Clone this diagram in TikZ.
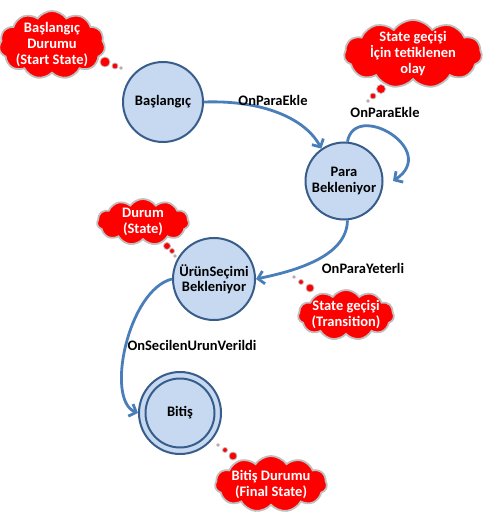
\documentclass[tikz,border=0pt]{standalone}
\usepackage{fontspec}
\setmainfont{Carlito}
\usetikzlibrary{shapes.symbols,arrows.meta}
\definecolor{sfill}{HTML}{C6D9F1}
\definecolor{sdraw}{HTML}{385D8A}
\definecolor{edgec}{HTML}{4A7EBB}
\definecolor{cloudr}{HTML}{FF0000}
\definecolor{cloudb}{HTML}{BFBFBF}
\begin{document}
\begin{tikzpicture}[x=1pt,y=-1pt,
  txt/.style={font=\fontsize{14.5}{15.5}\selectfont\bfseries,align=center,inner sep=0pt},
  state/.style={txt,circle,draw=sdraw,fill=sfill,line width=2pt},
  edge/.style={draw=edgec,line width=2.8pt,-{Straight Barb[length=6pt,width=13pt]}},
  elabel/.style={txt,text=black},
  cloudshape/.style={cloud,cloud puffs=11,cloud puff arc=110,cloud ignores aspect,fill=cloudr,draw=cloudb,line width=1.8pt,inner sep=0pt},
  cloudtext/.style={txt,text=white,font=\fontsize{14.5}{16}\selectfont\bfseries},
  bubble/.style={fill=cloudr,draw=cloudb,line width=0.8pt},
  tiny/.style={fill=cloudb!80!red,draw=cloudb,line width=0.5pt}
]
\useasboundingbox[fill=white] (0,0) rectangle (489,521);

% states
\node[state,minimum size=80pt] (B) at (163,102) {Başlangıç};
\node[state,minimum size=77pt] (P) at (344,181) {Para\\Bekleniyor};
\node[state,minimum size=82pt] (U) at (214,279) {ÜrünSeçimi\\Bekleniyor};
\node[state,minimum size=82pt] (F) at (180,413) {};
\node[state,minimum size=69pt] (Fi) at (F) {Bitiş};
\coordinate (pl) at (393,181);

% transitions
\draw[edge] (B.east) .. controls (262,100) and (305,118) .. (P.125);
\draw[edge] (P.85) .. controls (355,100) and (440,150) .. (pl);
\draw[edge] (P.-85) .. controls (347,255) and (300,270) .. (U.east);
\draw[edge] (U.west) .. controls (128,290) and (105,400) .. (F.west);

% transition labels
\node[elabel] (l1) at (273,100) {OnParaEkle};
\node[elabel] (l2) at (385,112) {OnParaEkle};
\node[elabel] (l3) at (363,268) {OnParaYeterli};
\node[elabel] (l4) at (192,345) {OnSecilenUrunVerildi};

% clouds
\node[cloudshape,minimum width=106pt,minimum height=68pt] (c1) at (52,45) {};
\node[cloudtext] (c1t) at (c1) {Başlangıç\\Durumu\\(Start State)};
\filldraw[bubble] (105,62) circle[radius=5];
\filldraw[bubble] (115,66) circle[radius=3];
\filldraw[tiny] (121,68) circle[radius=1.6];

\node[cloudshape,minimum width=138pt,minimum height=68pt] (c2) at (413,54) {};
\node[cloudtext] (c2t) at (c2) {State geçişi\\İçin tetiklenen\\olay};
\filldraw[bubble] (381,89) circle[radius=4.5];
\filldraw[bubble] (373,96) circle[radius=3];
\filldraw[tiny] (368,101) circle[radius=1.6];

\node[cloudshape,minimum width=92pt,minimum height=46pt] (c3) at (143,222) {};
\node[cloudtext] (c3t) at (c3) {Durum\\(State)};
\filldraw[bubble] (167,246) circle[radius=3.5];
\filldraw[bubble] (172,251) circle[radius=2.5];
\filldraw[tiny] (175,256) circle[radius=1.6];

\node[cloudshape,minimum width=96pt,minimum height=50pt] (c4) at (346,315) {};
\node[cloudtext] (c4t) at (c4) {State geçişi\\(Transition)};
\filldraw[bubble] (310,288) circle[radius=4];
\filldraw[bubble] (301,282) circle[radius=2.5];
\filldraw[tiny] (294,277) circle[radius=1.6];

\node[cloudshape,minimum width=112pt,minimum height=56pt] (c5) at (271,484) {};
\node[cloudtext] (c5t) at (c5) {Bitiş Durumu\\(Final State)};
\filldraw[bubble] (233,456) circle[radius=4];
\filldraw[bubble] (225,450) circle[radius=2.5];
\filldraw[tiny] (218,445) circle[radius=1.6];
\end{tikzpicture}
\end{document}
